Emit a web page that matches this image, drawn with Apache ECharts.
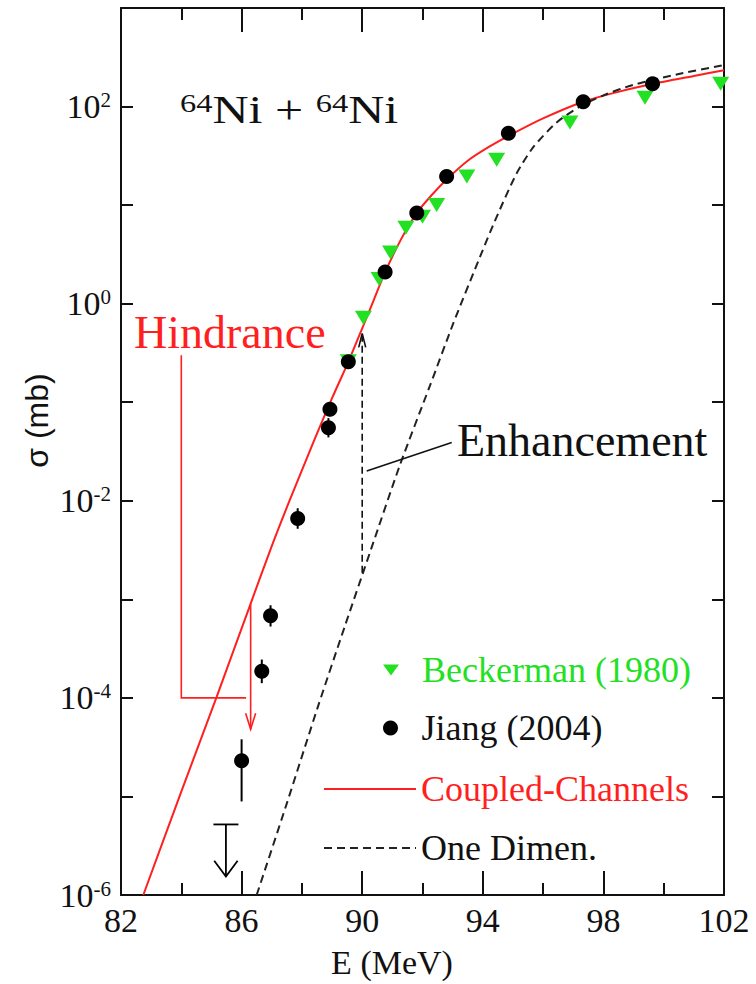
<!DOCTYPE html>
<html><head><meta charset="utf-8">
<script src="https://cdn.jsdelivr.net/npm/echarts@6/dist/echarts.min.js"></script>
<style>html,body{margin:0;padding:0;background:#fff}#c{width:756px;height:984px}</style>
</head><body><div id="c"></div>
<script>
const SERIF = "'Liberation Serif', 'Times New Roman', serif";
const SANS = "'Liberation Sans', Arial, sans-serif";
const RED = '#ff1f1f';
const GREEN = '#22e022';
const INK = '#111111';

// ---- data (E in MeV, sigma in mb) ----
const beckermanE = [89.54, 90.04, 90.56, 90.94, 91.45, 92.0, 92.47, 93.47, 94.46, 96.89, 99.38, 101.89];
const beckermanSigma = [0.26, 0.72, 1.78, 3.3, 5.9, 7.6, 10.0, 19.5, 28.8, 69, 123, 170];

const jiangE = [86.0, 86.67, 86.96, 87.86, 88.88, 88.93, 89.54, 90.76, 91.81, 92.80, 94.85, 97.33, 99.63];
const jiangSigma = [2.3e-5, 1.86e-4, 6.8e-4, 6.6e-3, 0.055, 0.085, 0.257, 2.09, 8.3, 19.5, 53.7, 112, 170];
const jiangLow = [8.9e-6, 1.41e-4, 5.3e-4, 5.2e-3, 0.044, 0.072, 0.235, 1.95, 7.8, 18.3, 50.5, 106, 162];
const jiangHigh = [3.8e-5, 2.45e-4, 8.7e-4, 8.4e-3, 0.069, 0.1, 0.28, 2.24, 8.8, 20.8, 57, 118, 178];
const jiangLimitE = [85.48];
const jiangLimitSigma = [5.2e-6];

const ccE = [82.74, 84.0, 85.17, 86.28, 87.0, 87.6, 88.43, 89.0, 89.54, 90.0, 90.4, 90.76, 91.3, 91.81, 92.3, 92.8, 93.5, 94.2, 94.9, 96.0, 97.33, 98.5, 99.66, 101.0, 102.0];
const ccSigma = [1.0e-6, 1.12e-5, 1.02e-4, 8.7e-4, 3.47e-3, 1.02e-2, 4.27e-2, 0.110, 0.257, 0.562, 1.12, 2.09, 4.57, 8.32, 12.6, 18.2, 28.2, 38.9, 51.3, 75.9, 112, 141, 170, 204, 234];

const oneDimE = [86.5, 87.5, 88.54, 89.43, 90.29, 91.25, 92.25, 93.02, 93.9, 94.46, 95.12, 95.68, 96.45, 97.22, 98.0, 98.99, 100.5, 101.98];
const oneDimSigma = [1.0e-6, 8.5e-6, 8.3e-5, 5.4e-4, 3.2e-3, 2.3e-2, 0.148, 0.63, 2.95, 7.6, 20.9, 38.9, 69, 100, 130, 166, 214, 263];

const xTickValues = [82, 86, 90, 94, 98, 102];

// annotation anchors, in data coordinates
const hindranceBracket = [[84, 0.3], [84, 1e-4], [86.15, 1e-4]];
const hindranceArrow = [[86.3, 8.9e-4], [86.3, 4.8e-5]];
const enhancementArrow = [[90, 1.86e-3], [90, 0.5]];
const enhancementLeader = [[90.15, 0.02], [92.97, 0.039]];

const annotations = [
  {pts: hindranceBracket, color: RED, width: 1.6, dash: null, head: false},
  {pts: hindranceArrow, color: RED, width: 1.6, dash: null, head: true, hl: 16, hw: 5},
  {pts: enhancementArrow, color: INK, width: 1.6, dash: [7, 4], head: true, hl: 14, hw: 3.5},
  {pts: enhancementLeader, color: INK, width: 1.6, dash: null, head: false}
];

const chart = echarts.init(document.getElementById('c'), null, {renderer: 'svg'});

function yLabel(v) {
  const e = Math.round(Math.log10(v));
  if (e % 2 !== 0) return '';
  return '{b|10}{s|' + e + '}';
}

const axisLineStyle = {color: INK, width: 2};
const hiddenItem = {color: 'rgba(0,0,0,0)', opacity: 0, borderWidth: 0};

const option = {
  animation: false,
  backgroundColor: '#fff',
  grid: {left: 121, right: 32, top: 8, bottom: 89, containLabel: false, outerBoundsMode: 'none'},
  xAxis: [
    {
      type: 'value', min: 82, max: 102, interval: 4, position: 'bottom',
      name: 'E (MeV)', nameLocation: 'middle', nameGap: 50, nameMoveOverlap: false,
      nameTextStyle: {fontFamily: SERIF, fontSize: 34, color: INK, padding: [0, 61, 0, 0]},
      axisLine: {lineStyle: axisLineStyle},
      axisTick: {inside: true, length: 24, lineStyle: {color: INK, width: 2}},
      minorTick: {show: true, splitNumber: 2, length: 12, lineStyle: {color: INK, width: 2}},
      splitLine: {show: false}, minorSplitLine: {show: false},
      axisLabel: {fontFamily: SERIF, fontSize: 34, color: INK, margin: 8,
        formatter: v => (xTickValues.indexOf(Math.round(v)) >= 0 ? String(Math.round(v)) : '')}
    },
    {
      type: 'value', min: 82, max: 102, interval: 4, position: 'top',
      axisLine: {lineStyle: axisLineStyle},
      axisTick: {inside: true, length: 24, lineStyle: {color: INK, width: 2}},
      minorTick: {show: true, splitNumber: 2, length: 12, lineStyle: {color: INK, width: 2}},
      splitLine: {show: false}, minorSplitLine: {show: false},
      axisLabel: {show: false}
    }
  ],
  yAxis: [
    {
      type: 'log', logBase: 10, min: 1e-6, max: 1e3, splitNumber: 9, position: 'left',
      name: 'σ (mb)', nameLocation: 'middle', nameGap: 68, nameMoveOverlap: false,
      nameTextStyle: {fontFamily: SANS, fontSize: 32, color: INK, padding: [0, 0, 0, 62]},
      axisLine: {lineStyle: axisLineStyle},
      axisTick: {inside: true, length: 12, lineStyle: {color: INK, width: 2}},
      minorTick: {show: false},
      splitLine: {show: false},
      axisLabel: {
        margin: 10, formatter: yLabel,
        rich: {
          b: {fontFamily: SERIF, fontSize: 34, color: INK},
          s: {fontFamily: SERIF, fontSize: 21, color: INK, verticalAlign: 'top'}
        }
      }
    },
    {
      type: 'log', logBase: 10, min: 1e-6, max: 1e3, splitNumber: 9, position: 'right',
      axisLine: {lineStyle: axisLineStyle},
      axisTick: {inside: true, length: 12, lineStyle: {color: INK, width: 2}},
      splitLine: {show: false},
      axisLabel: {show: false}
    }
  ],
  legend: [
    {data: [{name: 'Beckerman (1980)', icon: 'path://M0,0L16,0L8,11Z'}], left: 383, top: 652, padding: 0,
      itemWidth: 52, itemHeight: 11, symbolRotate: 0, selectedMode: false,
      textStyle: {fontFamily: SERIF, fontSize: 36, color: GREEN}},
    {data: ['Jiang (2004)'], left: 383, top: 710, padding: 0,
      itemWidth: 52, itemHeight: 15, selectedMode: false,
      textStyle: {fontFamily: SERIF, fontSize: 36, color: INK}},
    {data: ['Coupled-Channels'], left: 323, top: 771, padding: 0,
      itemWidth: 92, itemHeight: 14, selectedMode: false, itemStyle: hiddenItem,
      textStyle: {fontFamily: SERIF, fontSize: 36, color: RED}},
    {data: ['One Dimen.'], left: 323, top: 830, padding: 0,
      itemWidth: 92, itemHeight: 14, selectedMode: false, itemStyle: hiddenItem,
      textStyle: {fontFamily: SERIF, fontSize: 36, color: INK}}
  ],
  series: [
    {
      name: 'Coupled-Channels', type: 'line', symbol: 'none', smooth: 0.25, z: 3,
      data: ccE.map((e, i) => [e, ccSigma[i]]),
      lineStyle: {color: RED, width: 2}, itemStyle: {color: RED}
    },
    {
      name: 'One Dimen.', type: 'line', symbol: 'none', smooth: 0.25, z: 3,
      data: oneDimE.map((e, i) => [e, oneDimSigma[i]]),
      lineStyle: {color: '#222', width: 2, type: [8, 5]}, itemStyle: {color: '#222'}
    },
    {
      name: 'annotations', type: 'custom', z: 4, silent: true,
      data: annotations.map(a => a.pts[0]),
      renderItem: function (params, api) {
        const a = annotations[params.dataIndex];
        const pts = a.pts.map(p => api.coord(p));
        const children = [{
          type: 'polyline', shape: {points: pts},
          style: {stroke: a.color, lineWidth: a.width, fill: null, lineDash: a.dash}
        }];
        if (a.head) {
          const t = pts[pts.length - 1], s = pts[pts.length - 2];
          const dx = t[0] - s[0], dy = t[1] - s[1], L = Math.hypot(dx, dy);
          const ux = dx / L, uy = dy / L;
          const bx = t[0] - ux * a.hl, by = t[1] - uy * a.hl;
          children.push({
            type: 'polyline',
            shape: {points: [[bx - uy * a.hw, by + ux * a.hw], t, [bx + uy * a.hw, by - ux * a.hw]]},
            style: {stroke: a.color, lineWidth: a.width, fill: null}
          });
        }
        return {type: 'group', children: children};
      }
    },
    {
      name: 'Jiang errors', type: 'custom', z: 5, silent: true,
      data: jiangE.map((e, i) => [e, jiangSigma[i], jiangLow[i], jiangHigh[i]]),
      encode: {x: 0, y: 1},
      renderItem: function (params, api) {
        const lo = api.coord([api.value(0), api.value(2)]);
        const hi = api.coord([api.value(0), api.value(3)]);
        return {type: 'line', shape: {x1: lo[0], y1: lo[1], x2: hi[0], y2: hi[1]},
          style: {stroke: '#000', lineWidth: 2}};
      }
    },
    {
      name: 'Jiang upper limit', type: 'custom', z: 5, silent: true,
      data: jiangLimitE.map((e, i) => [e, jiangLimitSigma[i]]),
      renderItem: function (params, api) {
        const p = api.coord([api.value(0), api.value(1)]);
        const x = p[0], y = p[1];
        return {type: 'group', children: [
          {type: 'line', shape: {x1: x - 12.5, y1: y, x2: x + 12.5, y2: y}, style: {stroke: '#000', lineWidth: 1.8}},
          {type: 'line', shape: {x1: x, y1: y, x2: x, y2: y + 52}, style: {stroke: '#000', lineWidth: 1.8}},
          {type: 'polyline', shape: {points: [[x - 11.7, y + 36.3], [x, y + 52], [x + 11.7, y + 36.3]]},
            style: {stroke: '#000', lineWidth: 1.8, fill: null}}
        ]};
      }
    },
    {
      name: 'Beckerman (1980)', type: 'scatter', z: 6,
      symbol: 'path://M0,0L17,0L8.5,14Z', symbolSize: [17, 14],
      data: beckermanE.map((e, i) => [e, beckermanSigma[i]]),
      itemStyle: {color: GREEN, opacity: 1}
    },
    {
      name: 'Jiang (2004)', type: 'scatter', z: 7,
      symbol: 'circle', symbolSize: 15,
      data: jiangE.map((e, i) => [e, jiangSigma[i]]),
      itemStyle: {color: '#000', opacity: 1}
    }
  ],
  graphic: [
    {type: 'text', x: 180, y: 110, scaleX: 1.25, silent: true,
      style: {text: '{s|64}{n|Ni + }{s|64}{n|Ni}', verticalAlign: 'middle', align: 'left',
        rich: {
          n: {fontFamily: SERIF, fontSize: 40, fill: INK, color: INK},
          s: {fontFamily: SERIF, fontSize: 26, fill: INK, color: INK, verticalAlign: 'top'}
        }}},
    {type: 'text', x: 134, y: 332, silent: true,
      style: {text: 'Hindrance', fontFamily: SERIF, fontSize: 46, fill: RED, verticalAlign: 'middle', align: 'left'}},
    {type: 'text', x: 457, y: 440, silent: true,
      style: {text: 'Enhancement', fontFamily: SERIF, fontSize: 46, fill: INK, verticalAlign: 'middle', align: 'left'}}
  ]
};
chart.setOption(option);
</script></body></html>
